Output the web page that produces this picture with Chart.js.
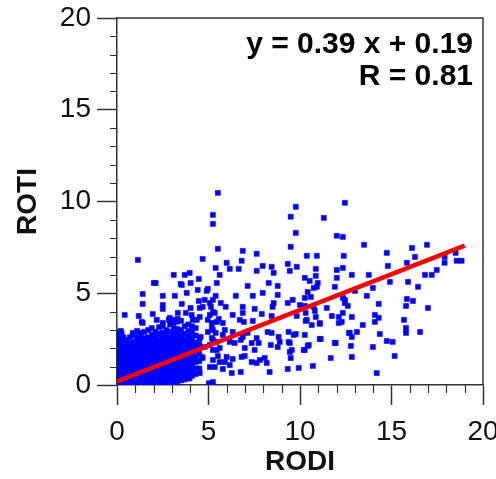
<!DOCTYPE html>
<html><head><meta charset="utf-8">
<script src="https://cdn.jsdelivr.net/npm/chart.js@4/dist/chart.umd.min.js"></script>
<style>html,body{margin:0;padding:0;background:#fff}</style>
</head><body>
<canvas id="c" width="496" height="479"></canvas>
<script>
const xAxisTitle = 'RODI';
const yAxisTitle = 'ROTI';
const axisMin = 0;
const axisMax = 20;
const majorStep = 5;
const minorTickValues = [1,2,3,4,6,7,8,9,11,12,13,14,16,17,18,19];
const fitLine = [[0,0.19],[19,7.6]];
const annotationLines = ['y = 0.39 x + 0.19','R = 0.81'];

// scattered observations (RODI, ROTI)
const scatterPoints = [
[5.51,10.47],[5.24,9.27],[5.24,8.78],[9.77,9.71],[9.49,9.17],[11.3,9.11],[12.45,9.93],[9.77,8.29],[12.01,8.13],[12.34,8.07],
[5.51,7.42],[6.87,7.31],[7.63,7.15],[9.49,7.53],[10.37,7.04],[10.92,7.04],[12.39,7.04],[13.5,7.64],[14.74,7.2],[16.12,7.47],[16.28,6.98],[16.94,7.64],[17.9,6.98],[18.5,7.2],
[1.14,6.82],[4.68,6.87],[5.99,6.66],[6.81,6.77],[5.39,6.38],[6.16,6.33],[6.65,6.33],[7.63,6.22],[7.96,6.49],[8.45,6.44],[8.56,6.11],[9.33,6.6],[9.44,6.22],[9.82,6.44],[10.86,6.33],[12.01,6.27],[12.34,6.38],[14.8,6.49],[15.84,6.66],[17.9,6.66],[18.56,6.77],[18.83,6.77],[17.47,6.27],
[3.97,6.11],[3.7,6.0],[3.1,6.0],[5.61,6.0],[10.86,5.95],[10.26,5.84],[12.01,5.84],[12.83,6.0],[13.76,6.0],[16.83,6.0],[17.2,6.0],
[4.47,5.78],[2.11,5.56],[3.54,5.45],[5.45,5.56],[8.29,5.56],[10.53,5.67],[10.97,5.56],[14.91,5.62],[15.9,5.62],[7.14,5.4],[8.78,5.4],[10.75,5.29],[11.9,5.35],[13.98,5.29],[16.45,5.35],[4.96,5.24],
[2.01,5.56],[3.48,5.51],[4.02,5.56],[1.4,4.96],[2.5,4.86],[3.16,4.86],[3.81,5.02],[4.9,5.13],[4.41,5.18],
[1.4,4.42],[2.5,4.36],[3.54,4.42],[4.47,4.58],[4.68,4.26],[5.07,4.47],[4.79,4.64],[2.5,4.15],[4.02,4.2],[4.52,4.2],[3.76,3.93],
[0.42,3.82],[1.95,3.87],[1.35,3.44],[2.83,3.55],[3.32,3.93],[4.08,3.82],[4.36,3.55],[5.07,3.82],[5.18,3.38],[1.19,3.76],[2.88,3.66],[3.05,3.55],[3.32,3.6],[4.14,3.55],[4.52,3.71],[4.96,3.55],[0.86,2.84],[0.25,2.84],[1.4,3.38],[2.17,3.55],[2.5,3.38],
[5.39,4.86],[5.24,4.64],[5.67,4.47],[6.49,4.86],[7.42,4.86],[7.96,5.02],[8.78,4.91],[9.33,4.47],[9.6,4.64],[8.56,4.47],[8.5,4.26],[10.42,5.07],[10.59,4.8],[10.92,5.35],[9.99,4.36],[10.26,4.31],[11.46,4.2],[10.81,4.04],[11.74,3.76],[12.12,3.71],[12.45,4.64],
[5.13,4.26],[5.34,3.93],[5.94,4.26],[6.87,4.26],[6.87,3.93],[7.52,4.15],[7.91,3.87],[8.45,3.76],[6.32,3.82],[6.71,3.55],[6.93,3.44],[7.42,3.49],[5.45,3.44],[5.78,3.38],[5.18,3.11],[5.39,2.84],
[10.37,3.55],[11.08,3.38],[10.64,3.27],[12.72,2.84],[8.23,2.89],[8.45,2.84],[9.38,2.89],[9.77,2.78],[10.26,2.73],[7.14,2.84],[7.63,2.56],[7.74,2.29],[7.36,2.29],[6.76,2.46],[6.16,2.35],[8.83,2.62],[8.89,2.35],[9.38,2.35],[8.4,2.18],[8.78,2.07],[10.26,1.91],[10.48,2.18],[11.08,2.51],[11.95,2.29],[6.98,2.02],[7.52,1.91],[5.24,1.91],[5.51,1.58],[5.89,1.25],[6.32,1.42],[6.98,1.58],[7.8,1.36],[8.07,1.47],[8.18,1.2],[8.34,0.71],[7.63,1.2],[9.49,1.47],[9.33,0.87],[9.93,0.93],[9.55,1.91],[11.68,1.47],[5.78,0.87],[6.27,0.65],[6.76,0.71],[5.24,0.16],
[13.0,5.13],[13.65,4.86],[12.34,4.75],[12.45,4.47],[12.61,4.31],[14.3,4.42],[15.84,4.69],[15.79,4.31],[16.17,4.58],[16.99,4.2],[12.34,3.93],[12.83,3.71],[12.28,3.44],[14.09,3.82],[14.3,3.66],[14.09,3.44],[13.43,3.27],[15.68,3.55],[15.79,3.11],[15.79,2.84],[16.56,2.89],[12.67,2.84],[12.83,2.62],[13.11,2.89],[14.36,2.78],[14.74,2.4],[15.06,2.35],[12.78,2.13],[13.98,2.07],[15.17,1.58],[12.83,1.53],[14.19,0.65],
[4.57,2.62],[4.68,1.47],[5.07,0.98],[4.52,0.65],[5.02,0.1],[3.97,0.38],[4.14,0.82],[4.63,1.53],[4.79,2.07],[5.24,2.46],[5.45,1.91],[4.96,2.89],[5.18,2.56],[5.45,2.35],[5.61,2.02],[5.24,1.36],[5.34,0.98],[5.07,2.18],
[5.24,3.98],[5.56,3.6],[5.24,3.0],[5.89,3.0],[5.78,2.73],[6.32,2.89],[6.43,2.29],[5.99,1.53],[5.61,1.25],[6.16,1.09],[6.87,2.62],[6.81,1.53],[7.36,1.25],
[10.26,4.75],[10.31,3.93],[10.75,4.26],[10.86,3.71],[10.31,3.49],[11.08,3.33],[9.82,3.76],[9.66,2.73],[9.44,2.29],[9.44,1.8],[11.13,2.51],[10.42,2.13],[10.2,1.91],[11.9,2.29],[10.7,1.04],[12.12,3.38]
];

// dense cluster near the origin, one row per RODI column: [RODI, [ROTI values]]
const clusterColumns = [
[0.05,[0.05,0.25,0.45,0.65,0.85,1.05,1.25,1.45,1.65,1.85,2.05,2.25,2.45,2.65,2.85]],
[0.2,[0.1,0.3,0.5,0.7,0.9,1.1,1.3,1.5,1.7,1.9,2.1,2.3,2.5,2.75,2.95]],
[0.35,[0.15,0.35,0.55,0.75,0.95,1.15,1.35,1.55,1.75,1.95,2.15,2.35,2.6]],
[0.5,[0.1,0.3,0.5,0.7,0.9,1.1,1.3,1.5,1.7,1.9,2.1,2.3,2.45]],
[0.7,[0.05,0.25,0.45,0.65,0.85,1.05,1.25,1.45,1.65,1.85,2.05,2.3,2.6]],
[0.9,[0.1,0.3,0.5,0.7,0.9,1.1,1.3,1.5,1.7,1.9,2.1,2.35,2.7]],
[1.1,[0.15,0.35,0.55,0.75,0.95,1.15,1.35,1.55,1.75,1.95,2.15,2.4,2.65,2.95]],
[1.3,[0.2,0.4,0.6,0.8,1.0,1.2,1.4,1.6,1.8,2.0,2.2,2.4,2.6,2.85]],
[1.5,[0.1,0.3,0.5,0.7,0.9,1.1,1.3,1.5,1.7,1.9,2.1,2.3,2.55,2.9]],
[1.7,[0.15,0.35,0.55,0.75,0.95,1.15,1.35,1.55,1.75,1.95,2.15,2.35,2.6,3.0]],
[1.9,[0.1,0.3,0.5,0.7,0.9,1.1,1.3,1.5,1.7,1.9,2.1,2.3,2.5,2.75,3.1]],
[2.1,[0.2,0.4,0.6,0.8,1.0,1.2,1.4,1.6,1.8,2.0,2.2,2.4,2.65,2.9]],
[2.3,[0.1,0.3,0.5,0.7,0.9,1.1,1.3,1.5,1.7,1.9,2.1,2.3,2.5,2.8,3.15]],
[2.5,[0.15,0.35,0.55,0.75,0.95,1.15,1.35,1.55,1.75,1.95,2.15,2.35,2.6,2.85,3.2]],
[2.7,[0.1,0.3,0.5,0.7,0.9,1.1,1.3,1.5,1.7,1.9,2.1,2.3,2.5,2.75,3.0]],
[2.9,[0.2,0.4,0.6,0.8,1.0,1.2,1.4,1.6,1.8,2.0,2.2,2.4,2.6,2.9,3.3]],
[3.1,[0.15,0.35,0.55,0.75,0.95,1.15,1.35,1.55,1.75,1.95,2.15,2.35,2.6,2.85,3.1,3.4]],
[3.3,[0.1,0.3,0.5,0.7,0.9,1.1,1.3,1.5,1.7,1.9,2.1,2.3,2.55,2.8,3.05,3.45]],
[3.5,[0.25,0.45,0.65,0.85,1.05,1.25,1.45,1.65,1.85,2.05,2.25,2.45,2.7,3.0,3.5]],
[3.7,[0.3,0.5,0.7,0.9,1.1,1.3,1.5,1.7,1.9,2.1,2.3,2.5,2.8,3.2]],
[3.9,[0.35,0.6,0.8,1.0,1.2,1.4,1.6,1.8,2.0,2.2,2.4,2.65,2.95,3.3]],
[4.1,[0.5,0.75,1.0,1.2,1.45,1.65,1.9,2.1,2.35,2.6,2.9,3.2]],
[4.3,[0.6,0.9,1.25,1.5,1.8,2.05,2.3,2.7,3.1]],
[4.5,[0.9,1.3,1.7,2.2,2.5]]
];

const FONT = "'Liberation Sans', Arial, sans-serif";
const AXIS_COLOR = '#333';

const allPoints = [];
clusterColumns.forEach(([x, ys]) => ys.forEach(y => allPoints.push({x, y})));
scatterPoints.forEach(([x, y]) => allPoints.push({x, y}));

const framePlugin = {
  id: 'frame',
  afterDraw(chart) {
    const {ctx, chartArea: a, scales: {x, y}} = chart;
    ctx.save();
    ctx.strokeStyle = AXIS_COLOR;
    ctx.lineWidth = 1.5;
    ctx.beginPath();
    ctx.moveTo(a.left, a.top); ctx.lineTo(a.right, a.top); ctx.lineTo(a.right, a.bottom);
    ctx.stroke();
    ctx.lineWidth = 1.2;
    ctx.beginPath();
    minorTickValues.forEach(v => {
      const px = Math.round(x.getPixelForValue(v)) + 0.5;
      ctx.moveTo(px, a.bottom); ctx.lineTo(px, a.bottom + 8);
      const py = Math.round(y.getPixelForValue(v)) + 0.5;
      ctx.moveTo(a.left - 7, py); ctx.lineTo(a.left, py);
    });
    ctx.stroke();
    ctx.fillStyle = '#000';
    ctx.font = "bold 30px " + FONT;
    ctx.textAlign = 'right';
    ctx.textBaseline = 'alphabetic';
    ctx.fillText(annotationLines[0], a.right - 10, a.top + 35);
    ctx.fillText(annotationLines[1], a.right - 10, a.top + 67);
    ctx.restore();
  }
};

const axisCommon = {
  type: 'linear', min: axisMin, max: axisMax,
  ticks: { stepSize: majorStep, color: '#111', font: { family: FONT, size: 28 } },
  grid: { drawOnChartArea: false, drawTicks: true, tickLength: 20, tickColor: AXIS_COLOR, tickWidth: 1.5 },
  border: { display: true, color: AXIS_COLOR, width: 1.5 }
};

new Chart(document.getElementById('c'), {
  type: 'scatter',
  data: {
    datasets: [
      { type: 'line', data: fitLine.map(([x, y]) => ({x, y})), borderColor: '#ff0000', borderWidth: 4.5, pointRadius: 0, order: 0 },
      { data: allPoints, pointStyle: 'rect', pointRadius: 3.6, backgroundColor: '#0000ff', borderColor: '#0000ff', borderWidth: 0.5, order: 1 }
    ]
  },
  options: {
    responsive: false, animation: false, devicePixelRatio: 1,
    layout: { padding: { left: 0, top: 18, right: 13, bottom: 0 } },
    plugins: { legend: { display: false }, tooltip: { enabled: false } },
    scales: {
      x: Object.assign({}, axisCommon, {
        position: 'bottom',
        ticks: Object.assign({}, axisCommon.ticks, { padding: 10, maxRotation: 0 }),
        title: { display: true, text: xAxisTitle, color: '#111', font: { family: FONT, size: 28, weight: 'bold' }, padding: { top: 0, bottom: 0 } },
        afterFit(s) { s.height = 94; s.paddingLeft = 0; s.paddingRight = 0; }
      }),
      y: Object.assign({}, axisCommon, {
        position: 'left',
        ticks: Object.assign({}, axisCommon.ticks, { padding: 6 }),
        title: { display: true, text: yAxisTitle, color: '#111', font: { family: FONT, size: 28, weight: 'bold' }, padding: { top: 11, bottom: 0 } },
        afterFit(s) { s.width = 117; s.paddingTop = 0; s.paddingBottom = 0; }
      })
    }
  },
  plugins: [framePlugin]
});
</script>
</body></html>
